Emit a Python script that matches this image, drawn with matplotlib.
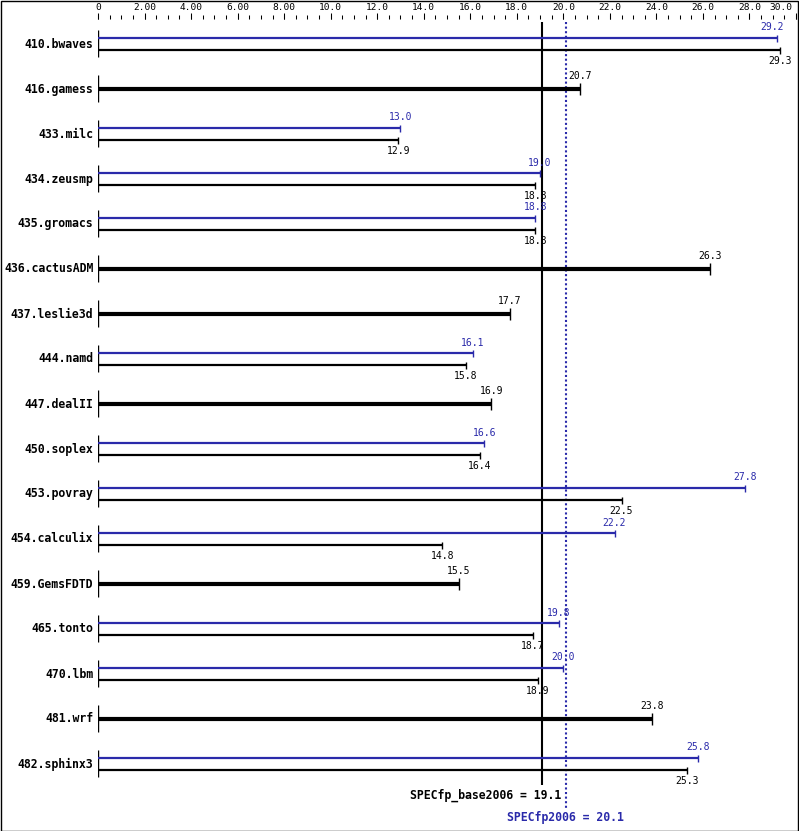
import matplotlib.pyplot as plt
import matplotlib
import numpy as np

benchmarks = ['410.bwaves', '416.gamess', '433.milc', '434.zeusmp', '435.gromacs',
              '436.cactusADM', '437.leslie3d', '444.namd', '447.dealII', '450.soplex',
              '453.povray', '454.calculix', '459.GemsFDTD', '465.tonto', '470.lbm',
              '481.wrf', '482.sphinx3']
# None for peak means peak == base (drawn as one thick bar)
base = [29.3, 20.7, 12.9, 18.8, 18.8, 26.3, 17.7, 15.8, 16.9, 16.4,
        22.5, 14.8, 15.5, 18.7, 18.9, 23.8, 25.3]
peak = [29.2, None, 13.0, 19.0, 18.8, None, None, 16.1, None, 16.6,
        27.8, 22.2, None, 19.8, 20.0, None, 25.8]
base_mean = 19.1
peak_mean = 20.1
tick_values = np.arange(0, 30.01, 2)
tick_labels = ['0', '2.00', '4.00', '6.00', '8.00', '10.0', '12.0', '14.0', '16.0',
               '18.0', '20.0', '22.0', '24.0', '26.0', '28.0', '30.0']

BLUE = '#2a2aaa'
matplotlib.rcParams['font.family'] = 'DejaVu Sans Mono'

W, H = 799, 831
fig = plt.figure(figsize=(W / 100, H / 100), dpi=100)
# axes spans x pixels 98..796 (0..30), y in pixel units (top = 0)
ax = fig.add_axes([98 / W, 0, (796 - 98) / W, 1])
ax.set_xlim(0, 30)
ax.set_ylim(H, 0)
ax.axis('off')

# frame around the whole picture
fig.patches.append(plt.Rectangle((0.5 / W, 0.5 / H), 1 - 1.5 / W, 1 - 1.5 / H,
                                 transform=fig.transFigure, fill=False,
                                 edgecolor='black', linewidth=1.0))

# top scale
minor = np.arange(0, 30.01, 0.5)
ax.vlines(minor, 15, 19, color='black', linewidth=0.75, clip_on=False)
ax.vlines(tick_values, 12.5, 19, color='black', linewidth=0.75, clip_on=False)
for v, lab in zip(tick_values, tick_labels):
    x = v
    if lab == '30.0':
        x = v - 0.65
    ax.text(x, 7.5, lab, ha='center', va='center', fontsize=6.8, clip_on=False)

# mean lines
ax.vlines(base_mean, 22, 785, color='black', linewidth=1.5)
ax.vlines(peak_mean, 22, 808, color=BLUE, linewidth=1.5, linestyles=(0, (1, 1.2)))

y0, step = 44, 45
for i, name in enumerate(benchmarks):
    yc = y0 + i * step
    ax.text(-0.2, yc, name, ha='right', va='center', fontsize=8.3,
            fontweight='bold', clip_on=False)
    ax.vlines(0, yc - 14, yc + 13, color='black', linewidth=1.0)
    b = base[i]
    p = peak[i]
    if p is None:
        ax.hlines(yc, 0, b, color='black', linewidth=3.0)
        ax.vlines(b, yc - 6, yc + 6, color='black', linewidth=1.0)
        ax.text(b, yc - 13, f'{b:.1f}', ha='center', va='center', fontsize=7)
    else:
        yp, yb = yc - 6, yc + 6
        ax.hlines(yp, 0, p, color=BLUE, linewidth=1.6)
        ax.vlines(p, yp - 3.5, yp + 3.5, color=BLUE, linewidth=1.0)
        ax.hlines(yb, 0, b, color='black', linewidth=1.6)
        ax.vlines(b, yb - 3.5, yb + 3.5, color='black', linewidth=1.0)
        px = p - 0.25 if p > 29 else p
        ax.text(px, yp - 10.5, f'{p:.1f}', ha='center', va='center', fontsize=7,
                color=BLUE, clip_on=False)
        ax.text(b, yb + 11, f'{b:.1f}', ha='center', va='center', fontsize=7)

ax.text(base_mean + 0.8, 795, f'SPECfp_base2006 = {base_mean}', ha='right',
        va='center', fontsize=8.3, fontweight='bold')
ax.text(peak_mean, 817, f'SPECfp2006 = {peak_mean}', ha='center',
        va='center', fontsize=8.3, fontweight='bold', color=BLUE)

fig.savefig('out.png', dpi=100, facecolor='white')
